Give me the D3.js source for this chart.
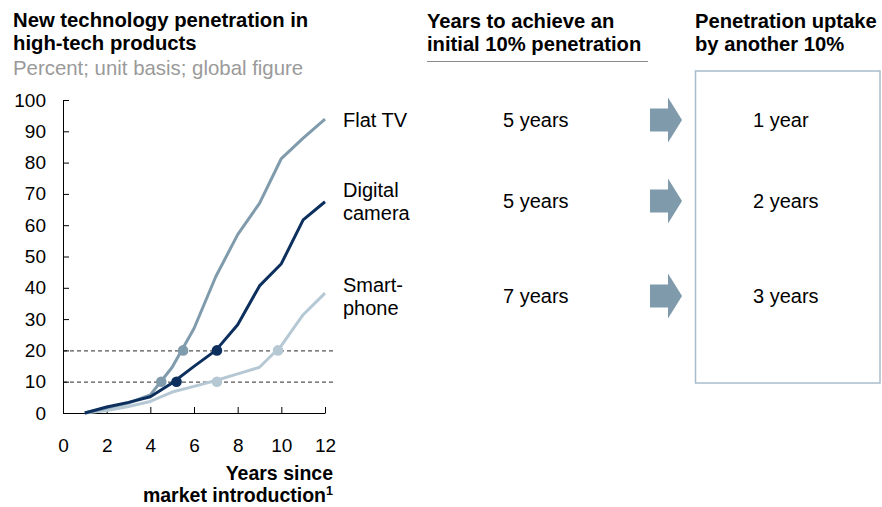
<!DOCTYPE html>
<html>
<head>
<meta charset="utf-8">
<script src="https://cdn.jsdelivr.net/npm/d3@7/dist/d3.min.js"></script>
<style>
  body { margin: 0; background: #fff; }
  text { font-family: "Liberation Sans", Arial, sans-serif; }
</style>
</head>
<body>
<svg id="chart" width="882" height="507"></svg>
<script>
// ---- data ----
const years = [1, 2, 3, 4, 5, 6, 7, 8, 9, 10, 11, 12];
const flatTV = [0, 1.7, 3.2, 5.8, 14.6, 27, 43.6, 57, 67, 81.3, 87.8, 93.9];
const digitalCamera = [0, 1.9, 3.4, 5.2, 9.6, 14.9, 20, 28.2, 40.6, 47.7, 61.7, 67.5];
const smartphone = [0, 0.8, 2.1, 3.7, 6.7, 8.5, 10.4, 12.5, 14.6, 21.5, 31.4, 38.3];
// milestone points (year reached, penetration level)
const flatTVMilestones = [[4.5, 10], [5.5, 20]];
const cameraMilestones = [[5.2, 10], [7.05, 20]];
const smartphoneMilestones = [[7.05, 10], [9.85, 20]];
const seriesNames = [["Flat TV"], ["Digital", "camera"], ["Smart-", "phone"]];
const initialYears = ["5 years", "5 years", "7 years"];
const uptakeYears = ["1 year", "2 years", "3 years"];
const yTicks = [0, 10, 20, 30, 40, 50, 60, 70, 80, 90, 100];
const xTicks = [0, 2, 4, 6, 8, 10, 12];
const refLevels = [10, 20];

const colors = ["#7f9bac", "#0c2f5e", "#b6c8d4"];
const seriesData = [flatTV, digitalCamera, smartphone];
const milestones = [flatTVMilestones, cameraMilestones, smartphoneMilestones];

const svg = d3.select("#chart");
const x = d3.scaleLinear().domain([0, 12]).range([63, 325]);
const y = d3.scaleLinear().domain([0, 100]).range([413, 100]);

// titles
const t1 = svg.append("text").attr("font-size", 20.3).attr("font-weight", "bold").attr("fill", "#000");
t1.append("tspan").attr("x", 13).attr("y", 27).text("New technology penetration in");
t1.append("tspan").attr("x", 13).attr("y", 50).text("high-tech products");
svg.append("text").attr("x", 13).attr("y", 75).attr("font-size", 20.4).attr("fill", "#9a9a9a")
  .text("Percent; unit basis; global figure");

const t2 = svg.append("text").attr("font-size", 20.2).attr("font-weight", "bold");
t2.append("tspan").attr("x", 427).attr("y", 28).text("Years to achieve an");
t2.append("tspan").attr("x", 427).attr("y", 51).text("initial 10% penetration");
svg.append("line").attr("x1", 427).attr("x2", 648).attr("y1", 61.5).attr("y2", 61.5)
  .attr("stroke", "#8a8a8a").attr("stroke-width", 1.2);

const t3 = svg.append("text").attr("font-size", 20.2).attr("font-weight", "bold");
t3.append("tspan").attr("x", 695).attr("y", 28).text("Penetration uptake");
t3.append("tspan").attr("x", 695).attr("y", 51).text("by another 10%");

// box
svg.append("rect").attr("x", 695.5).attr("y", 71).attr("width", 184.5).attr("height", 312)
  .attr("fill", "none").attr("stroke", "#a9bccb").attr("stroke-width", 1.5);

// reference dashed lines
svg.selectAll(".ref").data(refLevels).enter().append("line")
  .attr("x1", x(0)).attr("x2", x(12.5))
  .attr("y1", d => y(d) + 0.5).attr("y2", d => y(d) + 0.5)
  .attr("stroke", "#555").attr("stroke-width", 1.2).attr("stroke-dasharray", "4,3");

// axes
const yAxis = d3.axisLeft(y).tickValues(yTicks).tickSizeInner(-6).tickSizeOuter(0).tickPadding(17);
const gy = svg.append("g").attr("transform", `translate(${x(0)},0)`).call(yAxis);
const xAxis = d3.axisBottom(x).tickValues(xTicks).tickSizeInner(-6).tickSizeOuter(0).tickPadding(26);
const gx = svg.append("g").attr("transform", `translate(0,${y(0)})`).call(xAxis);
[gx, gy].forEach(g => {
  g.selectAll("text").attr("font-size", 19).attr("fill", "#000")
    .attr("font-family", '"Liberation Sans", Arial, sans-serif');
  g.selectAll("line").attr("stroke", "#000");
  g.select(".domain").attr("stroke", "#000");
});
gx.select(".tick line").attr("stroke", "none");

// axis title
svg.append("text").attr("font-size", 19.5).attr("font-weight", "bold").attr("text-anchor", "end")
  .attr("x", 333).attr("y", 480).text("Years since");
const xt2 = svg.append("text").attr("font-size", 19.5).attr("font-weight", "bold").attr("text-anchor", "end")
  .attr("x", 333).attr("y", 502);
xt2.append("tspan").text("market introduction");
xt2.append("tspan").attr("font-size", 12.5).attr("dy", -7.5).text("1");

// lines (draw light to dark)
const line = d3.line().x((d, i) => x(years[i])).y(d => y(d));
[2, 0, 1].forEach(k => {
  svg.append("path").datum(seriesData[k]).attr("d", line)
    .attr("fill", "none").attr("stroke", colors[k]).attr("stroke-width", 3)
    .attr("stroke-linejoin", "round");
});
[2, 0, 1].forEach(k => {
  svg.selectAll(null).data(milestones[k]).enter().append("circle")
    .attr("cx", d => x(d[0])).attr("cy", d => y(d[1])).attr("r", 5.3)
    .attr("fill", colors[k]);
});

// rows
const rowY = [120, 201, 296];
seriesNames.forEach((lines, i) => {
  const t = svg.append("text").attr("font-size", 20).attr("fill", "#000");
  const off = lines.length === 1 ? 0 : -11.5;
  lines.forEach((s, j) => {
    t.append("tspan").attr("x", 343).attr("y", rowY[i] + 7 + off + j * 23).text(s);
  });
  svg.append("text").attr("x", 503).attr("y", rowY[i] + 7).attr("font-size", 20).text(initialYears[i]);
  svg.append("text").attr("x", 753).attr("y", rowY[i] + 7).attr("font-size", 20).text(uptakeYears[i]);
  const c = rowY[i];
  svg.append("path")
    .attr("d", `M650,${c - 11.5}H668V${c - 22.5}L682,${c}L668,${c + 22.5}V${c + 11.5}H650Z`)
    .attr("fill", "#7f9aab");
});
</script>
</body>
</html>
